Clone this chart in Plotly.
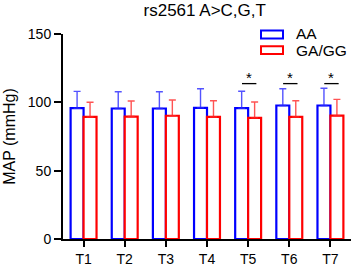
import plotly.graph_objects as go

categories = ["T1", "T2", "T3", "T4", "T5", "T6", "T7"]
aa_mean = [95.7, 95.5, 95.5, 96.0, 95.7, 97.7, 97.7]
aa_sd = [12.3, 12.2, 12.2, 13.9, 12.4, 12.2, 12.6]
gg_mean = [89.3, 89.6, 90.2, 89.3, 88.6, 89.3, 90.3]
gg_sd = [10.8, 11.4, 11.5, 11.9, 11.6, 11.9, 11.9]
sig_categories = ["T5", "T6", "T7"]
sig_line_y = 113.7
sig_star_y = 118.0

FONT = "Liberation Sans, Arial, sans-serif"
L, R, T, B = 63, 2, 33.5, 26.5
W, H = 353, 269
PW, PH = W - L - R, H - T - B

fig = go.Figure()
fig.add_trace(go.Bar(
    x=categories, y=aa_mean, name="AA",
    marker=dict(color="white", line=dict(color="#0000ff", width=2.2)),
    error_y=dict(type="data", array=aa_sd, symmetric=False, arrayminus=[0]*7,
                 color="rgba(40,40,255,0.8)", thickness=1.4, width=3.5),
    showlegend=False,
))
fig.add_trace(go.Bar(
    x=categories, y=gg_mean, name="GA/GG",
    marker=dict(color="white", line=dict(color="#ff0000", width=2.2)),
    error_y=dict(type="data", array=gg_sd, symmetric=False, arrayminus=[0]*7,
                 color="rgba(255,40,40,0.8)", thickness=1.4, width=3.5),
    showlegend=False,
))

shapes = []
annotations = []
for c in sig_categories:
    i = categories.index(c)
    shapes.append(dict(type="line", xref="x", yref="y", x0=i - 0.15, x1=i + 0.2,
                       y0=sig_line_y, y1=sig_line_y, line=dict(color="black", width=1.3)))
    annotations.append(dict(x=i + 0.02, y=sig_star_y, xref="x", yref="y", text="*",
                            showarrow=False, font=dict(size=15, color="black", family=FONT)))

# custom legend
legend_items = [("AA", "#0000ff", 0), ("GA/GG", "#ff0000", 1)]
for name, col, k in legend_items:
    yc = 34 + 16 * k
    ty = yc - 0.8 if k == 0 else yc + 0.8
    shapes.append(dict(type="rect", xref="paper", yref="paper",
                       x0=(261 - L) / PW, x1=(283 - L) / PW,
                       y0=(H - B - (yc + 4)) / PH, y1=(H - B - (yc - 4)) / PH,
                       line=dict(color=col, width=2), fillcolor="white"))
    annotations.append(dict(x=(294 - L) / PW, y=(H - B - ty) / PH, xref="paper", yref="paper",
                            text=name, showarrow=False, xanchor="left", yanchor="middle",
                            font=dict(size=15.5, color="black", family=FONT)))

fig.update_layout(
    width=W, height=H,
    margin=dict(l=L, r=R, t=T, b=B),
    paper_bgcolor="white", plot_bgcolor="white",
    barmode="group", bargap=0.37, bargroupgap=0,
    font=dict(family=FONT, color="black", size=14),
    title=dict(text="rs2561 A>C,G,T", x=0.58, xanchor="center", y=0.985, yanchor="top",
               font=dict(size=17, family=FONT, color="black")),
    shapes=shapes, annotations=annotations,
    xaxis=dict(range=[-0.5, 6.5], showline=True, linecolor="black", linewidth=2,
               ticks="outside", ticklen=6, tickwidth=2, tickcolor="black",
               showgrid=False, tickfont=dict(size=14), zeroline=False),
    yaxis=dict(range=[0, 150], tickvals=[0, 50, 100, 150], showline=True, linecolor="black",
               linewidth=2, ticks="outside", ticklen=7, tickwidth=2, tickcolor="black",
               showgrid=False, zeroline=False, tickfont=dict(size=14),
               title=dict(text="MAP (mmHg)", font=dict(size=16), standoff=8)),
)

fig.write_html("out.html", config={"displayModeBar": False},
               post_script="document.body.style.margin='0';document.body.style.overflow='hidden';")
